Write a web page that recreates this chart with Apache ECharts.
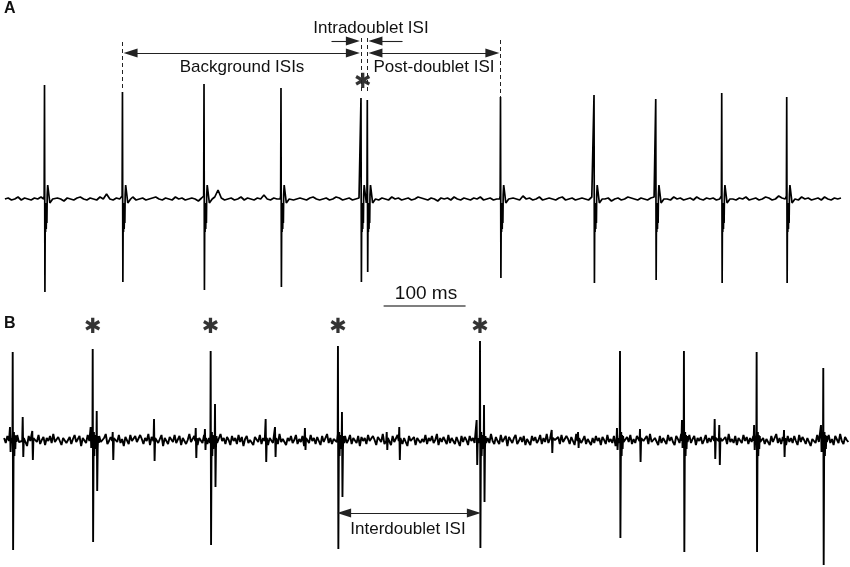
<!DOCTYPE html>
<html><head><meta charset="utf-8">
<script src="https://cdn.jsdelivr.net/npm/echarts@6/dist/echarts.min.js"></script>
<style>html,body{margin:0;padding:0;background:#fff}#c{width:850px;height:567px}</style>
</head><body><div id="c"></div>
<script>
// ---------- DATA (time in ms, potential in µV) ----------
// Panel A: spike times / peaks / troughs
const aTimes   = [54.3,149.4,248.9,342.8,440.4,448.1,610.6,724.7,800.0,880.5,959.8];
const aPeaks   = [114,107,115,111,101,99,102,104,100,106,102];
const aTroughs = [-93,-83,-91,-88,-83,-73,-79,-84,-81,-84,-84];
// Panel A spike waveform (offset ms, value; P = peak, T = trough)
const aShape = [[-1.0,0],[-0.4,3],[0,'P'],[0.5,'T'],[0.9,-10],[1.3,-33],[1.7,-4],[2.1,-30],[2.5,-6],[2.9,-24],[3.3,4],[3.9,14],[4.7,12],[5.5,3],[6.5,-4],[7.5,-5],[8.7,-2],[10,0]];
// Panel A baseline, sampled every 4 ms from 6 ms
const aNoiseStart = 6, aNoiseStep = 4;
const aNoise = [
0,1,-1,0,2,-1,1,0,-1,1,0,2,-1,0,1,-1,
1,0,-2,1,0,-1,1,2,0,-1,1,0,-1,2,0,5,
0,-1,1,0,-1,1,0,2,-1,0,1,-1,0,1,2,0,
-1,1,0,-1,2,0,1,-1,0,1,0,-2,1,0,1,-1,
2,9,1,-1,0,1,-1,0,2,-1,1,0,-1,1,0,4,
0,-1,1,0,1,-1,0,2,-1,0,1,0,-1,1,2,0,
-1,0,1,-1,0,2,1,-1,0,1,-1,0,1,2,-1,0,
1,0,-1,1,0,-1,2,0,1,-1,0,1,-1,0,2,1,
0,-1,1,0,-2,1,0,1,-1,2,0,-1,1,0,-1,1,
0,2,-1,0,1,-1,0,1,2,-1,0,1,0,-1,3,0,
1,-1,0,2,-1,0,1,0,-1,1,2,-1,0,1,-1,0,
1,0,-1,2,0,1,-1,0,1,-2,0,1,-1,0,2,1,
0,-1,1,0,-1,1,2,0,-1,1,0,-1,2,0,1,-1,
0,1,-1,2,0,-1,1,0,1,-1,0,2,-1,1,0,-1,
1,0,2,-1,0,1,-1,0,2,1,-1,0,3,1,0,-1,
1,0,-1,2,0,1,-1,0,1,-1,2,0,-1,1,0,1];

// Panel B: large spikes
const bTimes   = [15.5,113.1,257.0,412.3,585.6,756.4,834.4,923.1,1004.4];
const bPeaks   = [88,91,89,94,99,89,89,88,72];
const bTroughs = [-110,-102,-105,-109,-108,-98,-112,-112,-125];
// second spike of each doublet (marked with asterisks)
const bDoubletFirst = [1,2,3,4];
const bSecondTimes   = [118.0,262.3,417.2,590.5];
const bSecondPeaks   = [29,36,28,35];
const bSecondTroughs = [-51,-47,-57,-62];
// small background units
const bSmallTimes   = [12.2,27.7,39.4,110.6,137.5,187.9,238.8,250.0,324.1,335.5,372.0,471.8,487.1,581.5,673.1,705.2,752.7,780.8,832.0,871.9,877.5,920.0,956.5,1001.6];
const bSmallPeaks   = [13,23,9,13,8,21,12,11,21,13,12,8,13,20,10,8,12,11,20,21,15,15,10,15];
const bSmallTroughs = [-12,-17,-20,-8,-20,-21,-18,-10,-22,-17,-10,-10,-20,-25,-13,-8,-10,-22,-8,-19,-25,-10,-17,-12];
const bShape      = [[-0.8,-3],[-0.3,6],[0,'P'],[0.5,'T'],[1.0,-20],[1.5,8],[2.0,-16],[2.6,5],[3.2,-9],[3.8,4],[4.4,-2]];
const bSecondShape= [[-0.4,-6],[0,'P'],[0.6,'T'],[1.2,-8],[1.8,4],[2.6,-3]];
const bSmallShape = [[-0.6,-1],[0,'P'],[0.7,'T'],[1.4,2]];
// Panel B baseline, sampled every 2 ms from 5 ms
const bNoiseStart = 5, bNoiseStep = 2;
const bNoise = [
2,-3,4,-1,-5,3,1,-4,5,-2,0,3,-4,2,-6,4,-1,3,-3,1,
-2,5,-4,0,3,-5,2,-1,4,-3,6,-2,-4,3,1,-5,2,4,-3,0,
3,-4,1,5,-2,-3,4,-6,2,0,-3,5,-1,-4,3,2,-5,1,4,-2,
-3,2,6,-4,-1,3,-5,4,0,-2,5,-3,1,-6,3,2,-4,5,-1,-3,
4,-2,-3,5,1,-4,2,-1,6,-5,3,0,-2,4,-3,1,5,-6,2,-1,
-4,3,1,-2,5,-3,-1,4,-5,2,3,-4,0,6,-2,-3,4,1,-5,2,
0,-3,5,-1,-4,2,3,-5,1,4,-2,-3,6,-1,2,-4,3,0,-5,4,
-1,2,-4,5,-2,3,-6,1,4,-3,0,2,-5,3,1,-2,5,-4,2,-1,
3,-5,2,0,-3,4,-1,-4,6,-2,1,3,-5,2,-1,4,-3,0,5,-4,
1,-2,4,-6,3,0,-3,5,-1,2,-4,3,1,-5,4,-2,-1,6,-3,2,
-4,1,3,-2,5,-5,2,-1,4,-3,0,5,-4,2,1,-3,4,-6,3,-1,
2,-4,5,-1,-3,4,0,-5,3,1,-2,6,-4,2,-1,3,-5,4,-2,0,
5,-3,1,-4,2,3,-6,4,-1,0,3,-5,2,4,-3,1,-2,5,-4,2,
-1,4,-3,0,6,-5,2,-2,3,1,-4,5,-3,2,0,-4,3,1,-6,4,
-2,3,0,-5,4,-1,2,-3,5,-4,1,3,-2,-5,4,2,-3,6,-1,-4,
3,-1,-4,5,-2,0,4,-6,3,1,-3,2,5,-4,-1,3,-2,4,-5,1,
2,-5,4,-1,3,-3,0,5,-4,2,-2,6,-3,1,-5,4,0,-2,3,-4,
5,-2,-3,4,1,-4,3,-1,-5,6,-2,2,-3,0,4,-4,1,3,-5,2,
-3,4,-1,2,-5,3,0,-4,5,-2,1,-3,4,-6,3,2,-1,5,-4,0,
3,-2,5,-4,1,-3,4,2,-5,3,-1,0,4,-4,6,-2,-3,2,1,-5,
4,-3,2,0,-4,5,-1,3,-2,-5,4,1,-3,6,-4,2,0,-2,5,-3,
1,4,-5,2,-1,3,-4,0,5,-3,2,-2,4,-6,3,1,-4,5,-1,-2,
3,-4,6,-2,1,-3,4,-5,2,0,-3,5,-1,3,-4,2,-2,4,-5,1,
-1,5,-3,2,-4,1,3,-5,4,-2,0,6,-3,2,-4,3,1,-5,4,-2,
2,-3,4,-1,-5,5,-2,3,0,-4,2,4,-6,1,3,-3,5,-2,-1,4,
-4,3,-2,5,-3,1,-5,4,2,-3,6,-1,-4,3,0,-2];

// scale bar
const scaleBarStart = 468, scaleBarLength = 100;
const scaleBarLabel = '100 ms';

// ---------- BUILD ----------
function shapeFor(tpl, P, T){ return tpl.map(([o,v]) => [o, v==='P'?P:(v==='T'?T:v)]); }
function buildTrace(t0, dt, noise, events){
  events.sort((a,b)=>a.t-b.t);
  const out=[];
  noise.forEach((v,i)=>{
    const t=t0+i*dt;
    if(!events.some(e=>t>=e.t+e.s[0][0]-0.3 && t<=e.t+e.s[e.s.length-1][0]+0.3)) out.push([t,v]);
  });
  events.forEach((e,k)=>{
    const nx=events[k+1];
    const lim = nx ? nx.t+nx.s[0][0] : Infinity;
    e.s.forEach(([o,v])=>{ if(e.t+o<lim) out.push([+(e.t+o).toFixed(2), v]); });
  });
  out.sort((a,b)=>a[0]-b[0]);
  return out;
}
const aEvents = aTimes.map((t,i)=>({t, s:shapeFor(aShape,aPeaks[i],aTroughs[i])}));
const aTrace = buildTrace(aNoiseStart,aNoiseStep,aNoise,aEvents);
const bEvents = [
  ...bTimes.map((t,i)=>({t, s:shapeFor(bShape,bPeaks[i],bTroughs[i])})),
  ...bSecondTimes.map((t,i)=>({t, s:shapeFor(bSecondShape,bSecondPeaks[i],bSecondTroughs[i])})),
  ...bSmallTimes.map((t,i)=>({t, s:shapeFor(bSmallShape,bSmallPeaks[i],bSmallTroughs[i])}))
];
const bTrace = buildTrace(bNoiseStart,bNoiseStep,bNoise,bEvents);

// ---------- CHART ----------
const X_MAX = 1037;
const INSET = 2.4;      // arrow tips stop just short of the spikes (ms)
const HEAD = 7.5;       // half arrow-head length (ms)
const ANN = '#222';
const dash = {type:[4,3], width:1, color:ANN};
const solid = {type:'solid', width:1.1, color:ANN};
function seg(x1,y1,x2,y2,s1,s2,ls){
  return [{coord:[x1,y1], symbol:s1, lineStyle:ls}, {coord:[x2,y2], symbol:s2}];
}
const yArrow = 146, yIntra = 158;
const aMarks = [
  seg(aTimes[1],157,aTimes[1],109,'none','none',dash),
  seg(aTimes[4],161,aTimes[4],106,'none','none',dash),
  seg(aTimes[5],161,aTimes[5],106,'none','none',dash),
  seg(aTimes[6],159,aTimes[6],102,'none','none',dash),
  seg(aTimes[1]+INSET+HEAD,yArrow,aTimes[4]-INSET-HEAD,yArrow,'triangle','triangle',solid),
  seg(aTimes[5]+INSET+HEAD,yArrow,aTimes[6]-INSET-HEAD,yArrow,'triangle','triangle',solid),
  seg(aTimes[4]-36,yIntra,aTimes[4]-INSET-HEAD,yIntra,'none','triangle',solid),
  seg(aTimes[5]+43,yIntra,aTimes[5]+INSET+HEAD,yIntra,'none','triangle',solid)
];
const bMarks = [
  seg(bTimes[3]+HEAD,-73,bTimes[4]-HEAD,-73,'triangle','triangle',solid),
  seg(scaleBarStart,134,scaleBarStart+scaleBarLength,134,'none','none',{type:'solid',width:1.5,color:'#555'})
];

const font = '"Liberation Sans", Arial, sans-serif';
function txt(text,x,y,size,weight,align){
  return {type:'text', x, y, silent:true, style:{text, font:(weight||'normal')+' '+size+'px '+font, fill:'#111',
    textAlign:align||'center', align:align||'center', textVerticalAlign:'middle', verticalAlign:'middle'}};
}

const chart = echarts.init(document.getElementById('c'), null, {renderer:'canvas'});
chart.setOption({
  animation:false,
  backgroundColor:'#fff',
  grid:[{left:0,width:850,top:0,height:300},{left:0,width:850,top:300,height:267}],
  xAxis:[{type:'value',gridIndex:0,min:0,max:X_MAX,show:false},{type:'value',gridIndex:1,min:0,max:X_MAX,show:false}],
  yAxis:[{type:'value',gridIndex:0,min:-101,max:199,show:false},{type:'value',gridIndex:1,min:-127,max:140,show:false}],
  series:[
    {type:'line',xAxisIndex:0,yAxisIndex:0,data:aTrace,showSymbol:false,symbol:'none',
     lineStyle:{color:'#000',width:1.7},
     markLine:{silent:true,animation:false,symbolSize:[9,14],label:{show:false},data:aMarks}},
    {type:'line',xAxisIndex:1,yAxisIndex:1,data:bTrace,showSymbol:false,symbol:'none',
     lineStyle:{color:'#000',width:1.9},
     markLine:{silent:true,animation:false,symbolSize:[9,14],label:{show:false},data:bMarks}},
    {type:'scatter',xAxisIndex:1,yAxisIndex:1,symbolSize:0,silent:true,
     data:bDoubletFirst.map(i=>[bTimes[i],112]),
     label:{show:true,position:'inside',formatter:'✱',fontSize:21,color:'#000',fontFamily:'DejaVu Sans'}},
    {type:'scatter',xAxisIndex:0,yAxisIndex:0,symbolSize:0,silent:true,
     data:[[(aTimes[4]+aTimes[5])/2-1.5,116]],
     label:{show:true,position:'inside',formatter:'✱',fontSize:21,color:'#000',fontFamily:'DejaVu Sans'}}
  ],
  graphic:[
    txt('A',4,9,16,'bold','left'),
    txt('B',4,324,16,'bold','left'),
    txt('Intradoublet ISI',371,28,17),
    txt('Background ISIs',242,67,17),
    txt('Post-doublet ISI',434,67,17),
    txt(scaleBarLabel,426,294,19),
    txt('Interdoublet ISI',408,529,17)
  ]
});
</script></body></html>
